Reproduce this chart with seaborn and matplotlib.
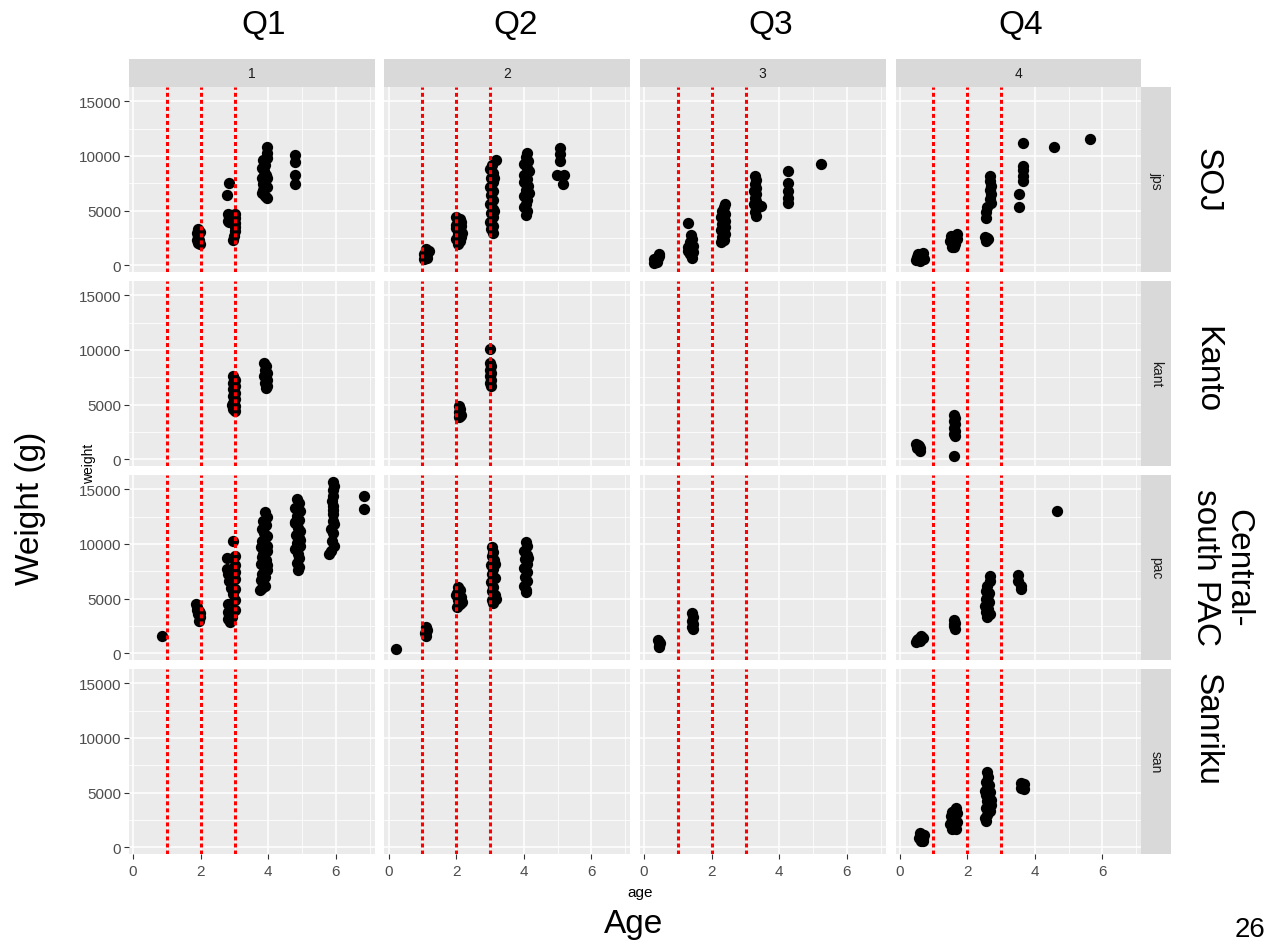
import numpy as np
import pandas as pd
import matplotlib
matplotlib.use("Agg")
import matplotlib.pyplot as plt
from matplotlib.patches import Rectangle
import seaborn as sns

quarters = ["1", "2", "3", "4"]
areas = ["jps", "kant", "pac", "san"]
quarter_titles = ["Q1", "Q2", "Q3", "Q4"]
area_titles = ["SOJ", "Kanto", "Central-\nsouth PAC", "Sanriku"]
cut_ages = [1, 2, 3]
x_ticks = [0, 2, 4, 6]
y_ticks = [0, 5000, 10000, 15000]

# --- SOJ (jps) ---
jps_q1_age = [1.93, 1.97, 1.93, 1.95, 1.93, 1.97, 1.90, 1.90,
              2.85, 2.78,
              2.80, 2.85, 2.82, 2.90, 3.00, 3.02, 3.00, 3.02, 3.00, 2.98, 2.97, 2.85,
              3.95, 3.97, 3.95, 3.85, 3.90, 3.80, 3.87, 3.93, 3.80, 3.90, 3.83, 3.95,
              3.85, 3.80, 3.90, 3.97, 3.85, 3.95,
              4.80, 4.80, 4.80, 4.80]
jps_q1_wt = [3350, 3050, 2700, 2350, 2050, 1950, 3000, 2300,
             7550, 6450,
             4700, 4400, 4100, 4600, 4700, 4300, 3900, 3500, 3100, 2700, 2350, 4000,
             10800, 10300, 9800, 9600, 9200, 8900, 8600, 8300, 8000, 7700, 7400, 7200,
             6900, 6600, 6300, 6200, 7900, 8000,
             10100, 9450, 8250, 7400]

jps_q2_age = [1.05, 1.10, 1.15, 1.20, 1.12, 1.05, 1.15,
              2.00, 2.10, 2.05, 2.15, 2.00, 2.12, 2.05, 2.15, 2.00, 2.10, 2.05, 2.15, 2.18, 2.00,
              3.18, 3.05, 3.00, 3.08, 3.02, 3.10, 3.00, 3.08, 3.02, 3.10, 3.00, 3.08, 3.02,
              3.10, 3.00, 3.08, 3.02, 3.10, 3.12, 3.12,
              4.10, 4.05, 4.12, 4.00, 4.08, 4.15, 4.02, 4.10, 4.00, 4.12, 4.05, 4.15, 4.00,
              4.10, 4.05, 4.00, 4.10, 4.05,
              5.07, 5.07, 5.07, 4.97, 5.20, 5.15]
jps_q2_wt = [600, 800, 1000, 1300, 1500, 1000, 700,
             4400, 4200, 3900, 3600, 3400, 3200, 2900, 2600, 2400, 2200, 1950, 4000, 3000, 3700,
             9600, 9200, 8800, 8400, 8000, 7600, 7200, 6800, 6400, 6000, 5600, 5200, 4800,
             4400, 4000, 3600, 3300, 3000, 8000, 5000,
             10250, 9900, 9500, 9300, 8900, 8600, 8300, 7900, 7600, 7300, 6900, 6600, 6300,
             6000, 5600, 5300, 5000, 4600,
             10750, 10150, 9550, 8250, 8250, 7400]

jps_q3_age = [0.30, 0.35, 0.40, 0.45, 0.45, 0.30, 0.38,
              1.29, 1.40, 1.42, 1.35, 1.45, 1.38, 1.45, 1.35, 1.42, 1.30, 1.30,
              2.40, 2.35, 2.30, 2.38, 2.28, 2.40, 2.30, 2.38, 2.28, 2.40, 2.30, 2.35, 2.28,
              3.28, 3.32, 3.27, 3.30, 3.26, 3.32, 3.27, 3.30, 3.26, 3.45, 3.30, 3.27, 3.30,
              4.26, 4.26, 4.26, 4.26, 4.26,
              5.24]
jps_q3_wt = [250, 450, 650, 850, 1050, 550, 300,
             3850, 2750, 2400, 2100, 1800, 1500, 1200, 1000, 700, 1300, 1700,
             5600, 5300, 5000, 4700, 4400, 4100, 3800, 3500, 3200, 2900, 2600, 2300, 2100,
             8150, 7800, 7450, 7100, 6800, 6500, 6200, 5900, 5600, 5400, 5200, 4900, 4550,
             8600, 7550, 6800, 6150, 5700,
             9250]

jps_q4_age = [0.50, 0.58, 0.66, 0.72, 0.55, 0.68, 0.60, 0.52,
              1.50, 1.60, 1.70, 1.55, 1.65, 1.70, 1.60, 1.52, 1.62,
              2.53, 2.62, 2.55, 2.60,
              2.68, 2.68, 2.70, 2.67, 2.70, 2.68, 2.70, 2.60, 2.55, 2.55,
              3.66, 3.66, 3.66, 3.66, 3.66, 3.52, 3.52,
              4.57, 5.64]
jps_q4_wt = [500, 700, 900, 600, 1000, 1100, 450, 800,
             2200, 2600, 2900, 1700, 2000, 2400, 1650, 2700, 2300,
             2600, 2400, 2250, 2500,
             8150, 7700, 7300, 6900, 6500, 6100, 5700, 5300, 4900, 4350,
             11150, 9100, 8700, 8200, 7700, 6550, 5350,
             10850, 11550]

# --- Kanto (kant) ---
kant_q1_age = [2.95, 3.00, 2.95, 3.00, 2.95, 3.00, 2.95, 3.00, 2.95, 3.00, 2.95, 3.00, 2.92,
               3.88, 3.93, 3.90, 3.95, 3.88, 3.95, 3.90, 3.97, 3.92]
kant_q1_wt = [7600, 7300, 7000, 6700, 6400, 6100, 5800, 5500, 5200, 4900, 4600, 4450, 5000,
              8850, 8500, 8200, 7900, 7600, 7300, 7000, 6700, 6500]

kant_q2_age = [2.07, 2.12, 2.08, 2.13, 2.07, 2.12,
               3.01, 3.00, 3.04, 3.00, 3.04, 3.00, 3.04, 3.00, 3.03]
kant_q2_wt = [4850, 4600, 4350, 4100, 3850, 4000,
              10050, 8800, 8500, 8200, 7900, 7600, 7300, 7000, 6700]

kant_q4_age = [0.50, 0.58, 0.52, 0.60, 0.55, 0.60,
               1.60, 1.64, 1.60, 1.64, 1.60, 1.64, 1.60, 1.63,
               1.61]
kant_q4_wt = [1400, 1200, 1000, 800, 1300, 1050,
              4100, 3800, 3500, 3200, 2900, 2600, 2300, 2150,
              350]

# --- Central-south PAC (pac) ---
pac_q1_age = [0.85,
              1.87, 1.90, 1.95, 1.92, 1.97, 1.95, 1.88, 1.97,
              2.97, 3.02, 2.78, 2.78, 2.80, 3.00, 3.02, 3.00, 2.83, 2.90, 3.02, 2.95, 3.00,
              2.82, 2.90, 2.80, 2.85, 2.80, 2.92, 3.00, 2.88,
              3.90, 3.95, 3.85, 3.92, 3.80, 3.88, 3.95, 3.82, 3.90, 3.78, 3.95, 3.85, 3.80,
              3.92, 3.78, 3.88, 3.95, 3.80, 3.90, 3.78, 3.85, 3.80, 3.90, 3.97, 3.97, 3.75,
              4.85, 4.90, 4.80, 4.95, 4.85, 4.92, 4.80, 4.88, 4.95, 4.82, 4.90, 4.85, 4.95,
              4.80, 4.88, 4.92, 4.85, 4.90, 4.88, 4.80, 4.95,
              5.90, 5.93, 5.90, 5.92, 5.88, 5.90, 5.92, 5.90, 5.95, 5.85, 5.92, 5.88, 5.95,
              5.85, 5.78, 5.90,
              6.82, 6.82]
pac_q1_wt = [1550,
             4500, 4200, 3900, 3600, 3300, 3000, 4000, 3700,
             10300, 8900, 8700, 7700, 7300, 8100, 7400, 6800, 6600, 6000, 5900, 5400, 4900,
             4500, 4200, 3800, 3500, 3100, 3300, 4000, 2900,
             12900, 12500, 12100, 11700, 11400, 11000, 10700, 10300, 10000, 9700, 9400, 9100, 8800,
             8500, 8200, 7900, 7600, 7300, 7000, 6700, 6400, 6000, 6200, 8100, 9800, 5800,
             14100, 13700, 13300, 13000, 12600, 12200, 11900, 11500, 11200, 10800, 10500, 10100, 9800,
             9500, 9100, 8700, 8300, 7900, 7650, 12000, 10400,
             15700, 15300, 14900, 14400, 13900, 13500, 13100, 12700, 11800, 11400, 11000, 10300, 9800,
             9400, 9050, 12100,
             14400, 13200]

pac_q2_age = [0.21,
              1.10, 1.13, 1.08, 1.12, 1.10,
              2.05, 2.10, 2.02, 2.15, 2.05, 2.18, 2.10, 2.02, 2.12, 2.00,
              3.05, 3.10, 3.05, 3.12, 3.03, 3.10, 3.05, 3.15, 3.03, 3.10, 3.05, 3.15, 3.05,
              3.10, 3.18, 3.15,
              4.05, 4.10, 4.00, 4.08, 4.03, 4.10, 4.00, 4.08, 4.03, 4.10, 4.00, 4.05, 4.05, 4.12]
pac_q2_wt = [450,
             2400, 2100, 1850, 1600, 2000,
             6100, 5800, 5500, 5200, 4900, 4700, 4500, 4250, 5000, 5300,
             9700, 9300, 8900, 8500, 8100, 7700, 7300, 6900, 6500, 6100, 5700, 5300, 4900,
             4650, 5000, 8200,
             10200, 9800, 9400, 9000, 8600, 8200, 7800, 7400, 7000, 6600, 6200, 5800, 5600, 8700]

pac_q3_age = [0.42, 0.46, 0.43, 0.45, 0.44,
              1.42, 1.45, 1.41, 1.44, 1.42, 1.45]
pac_q3_wt = [1200, 950, 700, 600, 1050,
             3650, 3300, 3000, 2700, 2400, 2200]

pac_q4_age = [0.50, 0.55, 0.60, 0.70, 0.62, 0.52,
              1.60, 1.63, 1.60, 1.64, 1.61,
              2.68, 2.66, 2.60, 2.57, 2.62, 2.55, 2.65, 2.58, 2.63, 2.55, 2.67, 2.60, 2.52, 2.65,
              3.51, 3.59, 3.58, 3.51,
              4.65]
pac_q4_wt = [1000, 1300, 1100, 1450, 1600, 1200,
             3050, 2800, 2500, 2250, 2650,
             7100, 6600, 6200, 5700, 5300, 5000, 4700, 4400, 4100, 3800, 3600, 3350, 4300, 5500,
             7150, 6150, 5850, 6600,
             13050]

# --- Sanriku (san) ---
san_q4_age = [0.60, 0.65, 0.70, 0.62, 0.68, 0.72, 0.58,
              1.68, 1.60, 1.70, 1.52, 1.65, 1.55, 1.70, 1.50, 1.62, 1.55, 1.68, 1.60, 1.55,
              2.60, 2.62, 2.55, 2.65, 2.58, 2.68, 2.55, 2.65, 2.60, 2.70, 2.56, 2.66, 2.60,
              2.52, 2.55, 2.70, 2.52,
              3.60, 3.65, 3.68, 3.58, 3.67]
san_q4_wt = [1300, 1050, 800, 600, 550, 1100, 900,
             3600, 3300, 3100, 2900, 2700, 2500, 2300, 2100, 1900, 1700, 1650, 2200, 3200,
             6850, 6400, 6000, 5700, 5400, 5100, 4800, 4500, 4200, 3900, 3600, 3300, 3000,
             2700, 2400, 4300, 5200,
             5900, 5600, 5300, 5400, 5800]

panels = {
    ("jps", "1"): (jps_q1_age, jps_q1_wt),
    ("jps", "2"): (jps_q2_age, jps_q2_wt),
    ("jps", "3"): (jps_q3_age, jps_q3_wt),
    ("jps", "4"): (jps_q4_age, jps_q4_wt),
    ("kant", "1"): (kant_q1_age, kant_q1_wt),
    ("kant", "2"): (kant_q2_age, kant_q2_wt),
    ("kant", "4"): (kant_q4_age, kant_q4_wt),
    ("pac", "1"): (pac_q1_age, pac_q1_wt),
    ("pac", "2"): (pac_q2_age, pac_q2_wt),
    ("pac", "3"): (pac_q3_age, pac_q3_wt),
    ("pac", "4"): (pac_q4_age, pac_q4_wt),
    ("san", "4"): (san_q4_age, san_q4_wt),
}
rows = []
for (area, q), (ages, wts) in panels.items():
    for a, w in zip(ages, wts):
        rows.append((area, q, a, w))
df = pd.DataFrame(rows, columns=["area", "quarter", "age", "weight"])

# ggplot-ish look
sns.set_theme(style="darkgrid", rc={"axes.facecolor": "#EBEBEB", "grid.color": "white"})
plt.rcParams["font.family"] = ["Liberation Sans", "DejaVu Sans"]

W, H = 1271, 945
fig, axes = plt.subplots(4, 4, figsize=(W / 100, H / 100), dpi=100, sharex=True, sharey=True)
pw, ph = 245.5, 185.0
fig.subplots_adjust(left=129 / W, right=1141 / W, top=1 - 88 / H, bottom=1 - 855 / H,
                    wspace=10 / pw, hspace=9 / ph)

for i, area in enumerate(areas):
    for j, q in enumerate(quarters):
        ax = axes[i, j]
        sub = df[(df.area == area) & (df.quarter == q)]
        if len(sub):
            sns.scatterplot(data=sub, x="age", y="weight", ax=ax, color="black",
                            s=66, linewidth=0, legend=False, zorder=2)
        for c in cut_ages:
            ax.axvline(c, color="red", lw=2.2, ls=(0, (1.3, 1.0)), zorder=3)
        ax.set_xlim(-0.12, 7.14)
        ax.set_ylim(-600, 16300)
        ax.set_xticks(x_ticks)
        ax.set_yticks(y_ticks)
        ax.set_xticks([1, 3, 5, 7], minor=True)
        ax.set_yticks([2500, 7500, 12500], minor=True)
        ax.grid(which="major", color="white", lw=1.1)
        ax.grid(which="minor", color="white", lw=0.55)
        ax.set_axisbelow(True)
        for s in ax.spines.values():
            s.set_visible(False)
        ax.set_xlabel("")
        ax.set_ylabel("")
        ax.tick_params(which="minor", length=0)
        ax.tick_params(which="major", length=0, labelsize=11, labelcolor="#4D4D4D", pad=2)
        if j == 0:
            ax.tick_params(axis="y", which="major", left=True, length=3.5, width=0.8,
                           color="#333333")
        if i == 3:
            ax.tick_params(axis="x", which="major", bottom=True, length=3.5, width=0.8,
                           color="#333333", pad=4)

# strips
for j, q in enumerate(quarters):
    ax = axes[0, j]
    ax.add_patch(Rectangle((0, 1), 1, 28 / ph, transform=ax.transAxes, facecolor="#D9D9D9",
                           edgecolor="none", clip_on=False))
    ax.text(0.5, 1 + 14 / ph, q, transform=ax.transAxes, ha="center", va="center",
            fontsize=10, color="#1A1A1A")
for i, area in enumerate(areas):
    ax = axes[i, 3]
    ax.add_patch(Rectangle((1, 0), 30 / pw, 1, transform=ax.transAxes, facecolor="#D9D9D9",
                           edgecolor="none", clip_on=False))
    ax.text(1 + 15 / pw, 0.5, area, transform=ax.transAxes, ha="center", va="center",
            rotation=-90, fontsize=10, color="#1A1A1A")

# ggplot axis titles
fig.text(640 / W, 1 - 893 / H, "age", ha="center", va="center", fontsize=11, color="black")
fig.text(89 / W, 1 - 464 / H, "weight", ha="center", va="center", rotation=90,
         fontsize=10, color="black")

# slide annotations
for x, t in zip([264, 516, 771, 1021], quarter_titles):
    fig.text(x / W, 1 - 26 / H, t, ha="center", va="center", fontsize=24, color="black")
for y, t in zip([180, 370, 730], [area_titles[0], area_titles[1], area_titles[3]]):
    fig.text(1207 / W, 1 - y / H, t, ha="center", va="center", rotation=-90,
             fontsize=24, color="black")
fig.text(1222 / W, 1 - 568 / H, area_titles[2], ha="center", va="center", rotation=-90,
         fontsize=24, linespacing=1.05, color="black")
fig.text(30 / W, 1 - 508 / H, "Weight (g)", ha="center", va="center", rotation=90,
         fontsize=24, color="black")
fig.text(634 / W, 1 - 925 / H, "Age", ha="center", va="center", fontsize=24, color="black")
fig.text(1250 / W, 1 - 930 / H, "26", ha="center", va="center", fontsize=20, color="black")

fig.savefig("out.png", dpi=100)
